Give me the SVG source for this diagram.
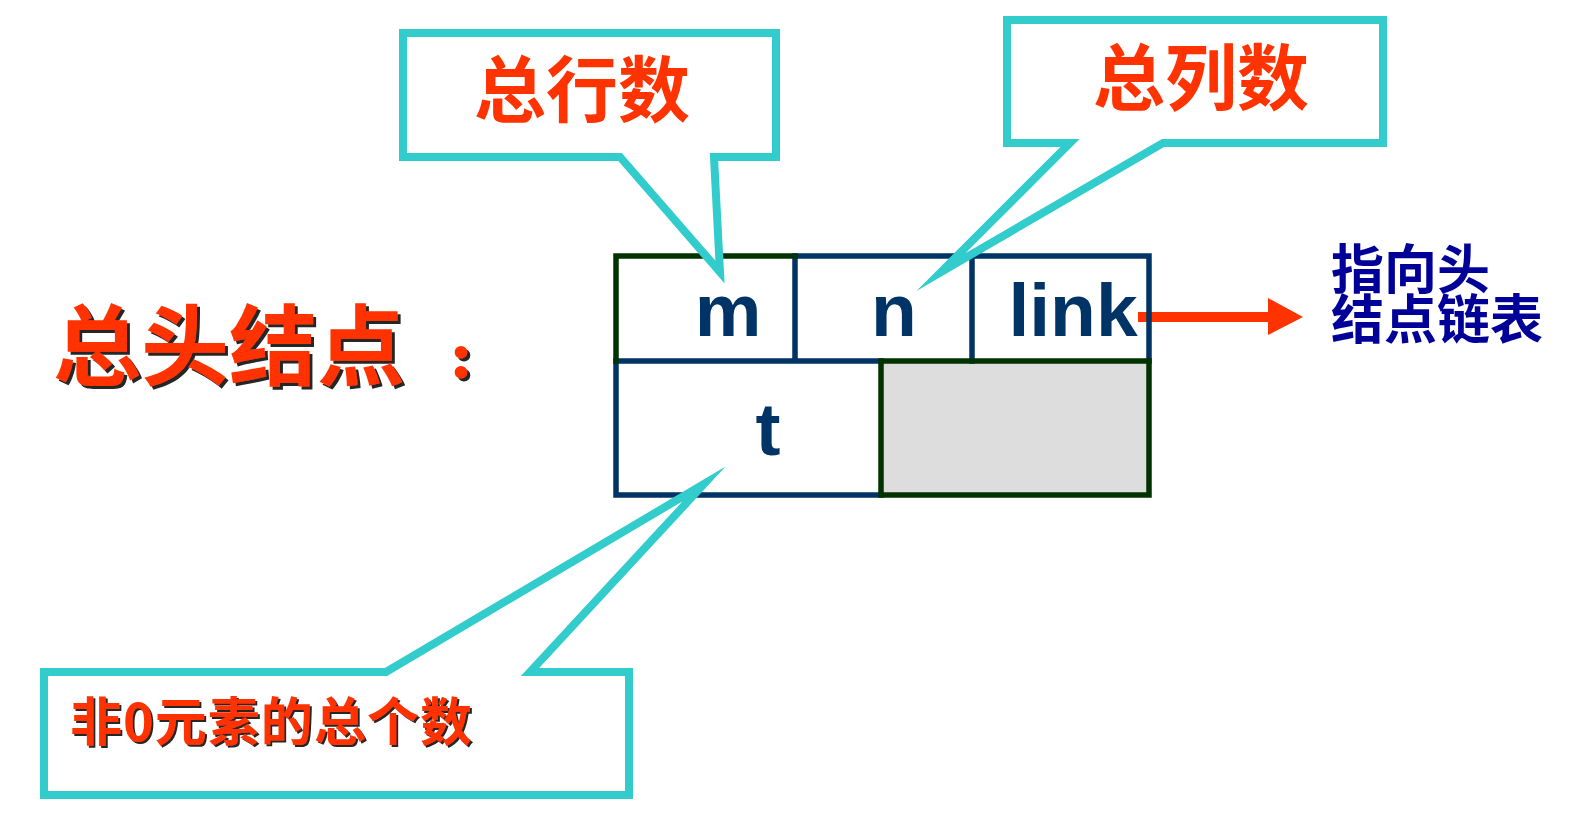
<svg xmlns="http://www.w3.org/2000/svg" width="1584" height="830" viewBox="0 0 1584 830">
  <defs>
    <filter id="shadow3" x="-5%" y="-5%" width="115%" height="120%">
      <feDropShadow dx="3" dy="3" stdDeviation="0.6" flood-color="#000000" flood-opacity="0.85"/>
    </filter>
    <filter id="shadow2" x="-5%" y="-5%" width="115%" height="130%">
      <feDropShadow dx="2" dy="2" stdDeviation="0.5" flood-color="#000000" flood-opacity="0.85"/>
    </filter>
  </defs>
  <style>
    .callout { fill: #FFFFFF; stroke: #33CCCC; stroke-width: 8; stroke-linejoin: miter; stroke-miterlimit: 30; }
    .cjk { font-family: "Noto Sans CJK SC", "Noto Sans", sans-serif; font-weight: 700; }
    .red { fill: #FF3300; }
    .blue { fill: #000099; }
    .cell { font-family: "Liberation Sans", Arial, sans-serif; font-weight: 700; font-size: 75px; fill: #003366; }
    .navy { stroke: #003366; stroke-width: 5.5; fill: none; stroke-linecap: square; }
    .green { stroke: #003300; stroke-width: 5.5; fill: none; stroke-linecap: square; }
  </style>
  <rect width="1584" height="830" fill="#FFFFFF"/>

  <g id="title">
    <text class="cjk red" x="53" y="378" font-size="88" filter="url(#shadow3)">总头结点<tspan x="451" y="375" font-size="40" stroke="#FF3300" stroke-width="5">：</tspan></text>
  </g>

  <g id="connectors">
    <line x1="1138" y1="317" x2="1272" y2="317" stroke="#FF3300" stroke-width="10"/>
    <polygon points="1268,298 1303,317 1268,335" fill="#FF3300"/>
  </g>

  <g id="header-node">
    <rect x="881" y="361" width="268" height="134" fill="#DDDDDD"/>
    <path class="navy" d="M795,256 H1149 V361 M795,256 V361 M972,256 V361 M616,361 H881 M616,361 V495 H881"/>
    <path class="green" d="M616,361 V256 H795"/>
    <rect class="green" x="881" y="361" width="268" height="134"/>
    <text class="cell" x="728" y="336" text-anchor="middle">m</text>
    <text class="cell" x="894" y="336" text-anchor="middle">n</text>
    <text class="cell" x="1073" y="336" text-anchor="middle">link</text>
    <text class="cell" x="768" y="455" text-anchor="middle">t</text>
  </g>

  <g id="target-label">
    <text class="cjk blue" font-size="53"><tspan x="1331" y="289">指向头</tspan><tspan x="1331" y="339">结点链表</tspan></text>
  </g>

  <g id="callout-rows">
    <polygon class="callout" points="403,33 776,33 776,157 714,157 720,272 620,157 403,157"/>
    <text class="cjk red" x="582" y="116" font-size="72" text-anchor="middle">总行数</text>
  </g>

  <g id="callout-cols">
    <polygon class="callout" points="1007,20 1383,20 1383,143 1163,143 941,272 1070,143 1007,143"/>
    <text class="cjk red" x="1201" y="104" font-size="72" text-anchor="middle">总列数</text>
  </g>

  <g id="callout-count">
    <polygon class="callout" points="44,672 386,672 704,484 530,672 629,672 629,795 44,795"/>
    <text class="cjk red" x="70" y="741" font-size="52" textLength="402" lengthAdjust="spacing" filter="url(#shadow2)">非0元素的总个数</text>
  </g>
</svg>
